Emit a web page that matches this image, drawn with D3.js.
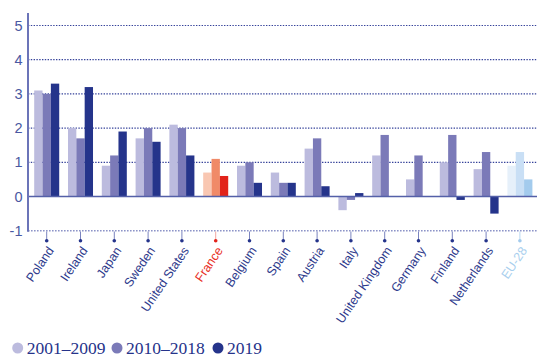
<!DOCTYPE html>
<html>
<head>
<meta charset="utf-8">
<script src="https://cdn.jsdelivr.net/npm/d3@7"></script>
<style>
  html, body { margin: 0; padding: 0; background: #fff; }
  svg { display: block; }
</style>
</head>
<body>
<svg id="chart" width="537" height="358"></svg>
<script>
// Annual growth by country, three periods
const categories = ["Poland", "Ireland", "Japan", "Sweden", "United States", "France", "Belgium",
  "Spain", "Austria", "Italy", "United Kingdom", "Germany", "Finland", "Netherlands", "EU-28"];
const seriesNames = ["2001–2009", "2010–2018", "2019"];
const v2001_2009 = [3.1, 2.0, 0.9, 1.7, 2.1, 0.7, 0.9, 0.7, 1.4, -0.4, 1.2, 0.5, 1.0, 0.8, 0.9];
const v2010_2018 = [3.0, 1.7, 1.2, 2.0, 2.0, 1.1, 1.0, 0.4, 1.7, -0.1, 1.8, 1.2, 1.8, 1.3, 1.3];
const v2019      = [3.3, 3.2, 1.9, 1.6, 1.2, 0.6, 0.4, 0.4, 0.3, 0.1, 0.0, 0.0, -0.1, -0.5, 0.5];
const yTicks = [-1, 0, 1, 2, 3, 4, 5];

const seriesValues = [v2001_2009, v2010_2018, v2019];

// Palettes: default, highlighted country, aggregate
const palette = {
  normal: ["#bcbbde", "#7b7ab8", "#25348b"],
  "France": ["#f9c7b2", "#f08a68", "#e2231a"],
  "EU-28": ["#e6f0fa", "#c9dff5", "#a3cbed"]
};
const labelColor = { normal: "#2e3a8c", "France": "#e8301f", "EU-28": "#a9cfee" };
const tickColor = { normal: "#7b84bf", "France": "#f3a8a0", "EU-28": "#b9d8f2" };
const dotColor = { normal: "#25348b", "France": "#e2231a", "EU-28": "#a3cbed" };
const pick = (obj, c) => obj[c] || obj.normal;

const svg = d3.select("#chart");

const y = d3.scaleLinear().domain([-1, 5]).range([230.7, 25.5]);
const x = d3.scaleBand().domain(categories).range([29.8, 536.8])
  .paddingInner(0.26).paddingOuter(0.13);
const xs = d3.scaleBand().domain(d3.range(seriesNames.length)).range([0, x.bandwidth()]);

const axisX = 28;

// Dotted gridlines for positive ticks
svg.append("g").selectAll("line")
  .data(yTicks.filter(t => t > 0))
  .join("line")
  .attr("x1", axisX).attr("x2", 537)
  .attr("y1", d => y(d)).attr("y2", d => y(d))
  .attr("stroke", "#35429a").attr("stroke-width", 1.2)
  .attr("stroke-dasharray", "1.4,1.4");

// Bars
const rows = [];
categories.forEach((c, i) => {
  seriesValues.forEach((vals, s) => rows.push({ c, s, v: vals[i] }));
});
svg.append("g").selectAll("rect")
  .data(rows.filter(d => d.v !== 0))
  .join("rect")
  .attr("x", d => x(d.c) + xs(d.s))
  .attr("width", xs.bandwidth())
  .attr("y", d => y(Math.max(0, d.v)))
  .attr("height", d => Math.abs(y(d.v) - y(0)))
  .attr("fill", d => pick(palette, d.c)[d.s]);

// Zero baseline
svg.append("line")
  .attr("x1", axisX).attr("x2", 537)
  .attr("y1", y(0)).attr("y2", y(0))
  .attr("stroke", "#5460a8").attr("stroke-width", 1.6);

// Bottom dotted line at -1
svg.append("line")
  .attr("x1", axisX).attr("x2", 537)
  .attr("y1", y(-1)).attr("y2", y(-1))
  .attr("stroke", "#8d94c8").attr("stroke-width", 1.6)
  .attr("stroke-dasharray", "1.6,1.4");

// Vertical axis line
svg.append("line")
  .attr("x1", axisX).attr("x2", axisX)
  .attr("y1", 13).attr("y2", y(-1) + 1)
  .attr("stroke", "#6b74b8").attr("stroke-width", 2);

// Y tick labels
svg.append("g").selectAll("text")
  .data(yTicks)
  .join("text")
  .attr("x", 22.5).attr("y", d => y(d))
  .attr("dy", "0.35em")
  .attr("text-anchor", "end")
  .attr("font-family", "'Liberation Sans', Arial, sans-serif")
  .attr("font-size", 14.5)
  .attr("fill", "#4a58a2")
  .text(d => d);

// Category ticks with dots
const catG = svg.append("g").selectAll("g")
  .data(categories)
  .join("g")
  .attr("transform", d => `translate(${x(d) + x.bandwidth() / 2},0)`);
catG.append("line")
  .attr("y1", y(-1) + 0.8).attr("y2", 240)
  .attr("stroke", d => pick(tickColor, d)).attr("stroke-width", 1);
catG.append("circle")
  .attr("cy", 240.7).attr("r", 1.8)
  .attr("fill", d => pick(dotColor, d));
catG.append("text")
  .attr("transform", "translate(4,248) rotate(-56)")
  .attr("text-anchor", "end")
  .attr("dy", "0.35em")
  .attr("font-family", "'Liberation Sans', Arial, sans-serif")
  .attr("font-size", 12.5)
  .attr("fill", d => pick(labelColor, d))
  .text(d => d);

// Legend
const legendX = [17.7, 117, 218];
const legend = svg.append("g").selectAll("g")
  .data(seriesNames)
  .join("g")
  .attr("transform", (d, i) => `translate(${legendX[i]},348)`);
legend.append("circle").attr("r", 5.5).attr("fill", (d, i) => palette.normal[i]);
legend.append("text")
  .attr("x", 9).attr("dy", "0.35em")
  .attr("font-family", "'Liberation Serif', 'DejaVu Serif', serif")
  .attr("font-size", 17.5)
  .attr("fill", "#26338a")
  .text(d => d);
</script>
</body>
</html>
